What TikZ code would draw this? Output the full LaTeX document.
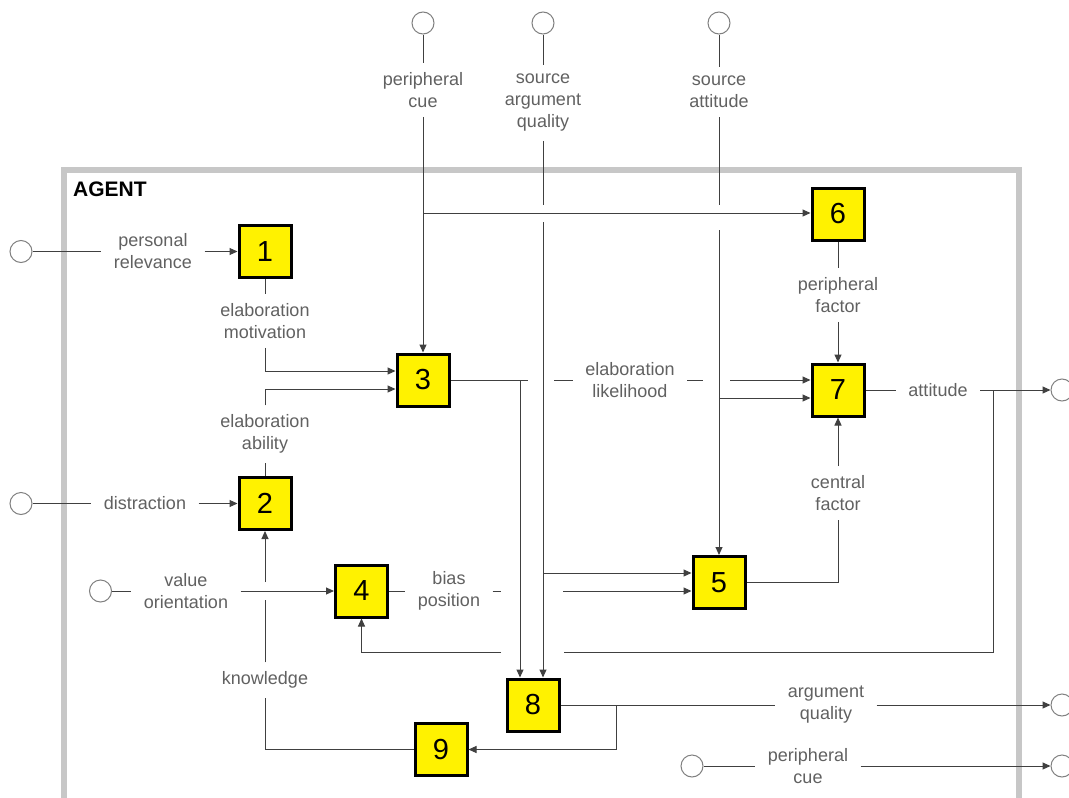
\documentclass[tikz,border=0pt]{standalone}
\usepackage{fontspec}
\setmainfont{Liberation Sans}
\usetikzlibrary{arrows.meta}
\tikzset{
  box/.style={draw=black, line width=3pt, fill=yellow, minimum width=52pt, minimum height=52pt, inner sep=0pt, font=\fontsize{29}{29}\selectfont},
  port/.style={circle, draw=black!50, line width=1pt, fill=white, minimum size=22pt, inner sep=0pt},
  lbl/.style={align=center, text=black!62, font=\fontsize{18}{22}\selectfont, inner xsep=12.5pt, inner ysep=9pt},
  wire/.style={draw=black!75, line width=1pt},
  arr/.style={wire, -{Triangle[length=8pt,width=7pt]}},
  frame/.style={draw=black!22, line width=6pt},
}
\begin{document}
\begin{tikzpicture}[x=1pt,y=-1pt]
\useasboundingbox (0,0) rectangle (1069,798);
\fill[white] (0,0) rectangle (1069,798);
\draw[frame] (63.5,169.5) rectangle (1019,802);
\node[font=\bfseries\fontsize{21}{21}\selectfont, anchor=west, inner sep=0pt] (agent) at (73,189) {AGENT};

% boxes
\node[box] (b1) at (265,251.5) {1};
\node[box] (b2) at (265,503.5) {2};
\node[box] (b3) at (423,380) {3};
\node[box] (b4) at (361.5,591) {4};
\node[box] (b5) at (719,582.5) {5};
\node[box] (b6) at (838,214) {6};
\node[box] (b7) at (838,390) {7};
\node[box] (b8) at (533,705) {8};
\node[box] (b9) at (441,749.5) {9};

% ports
\node[port] (ct1) at (423,23) {};
\node[port] (ct2) at (543,23) {};
\node[port] (ct3) at (719,23) {};
\node[port] (cl1) at (21,251.5) {};
\node[port] (cl2) at (21,503.5) {};
\node[port] (cl3) at (100.5,591) {};
\node[port] (cr1) at (1062,390) {};
\node[port] (cr2) at (1062,705) {};
\node[port] (cr3) at (1062,766) {};
\node[port] (cb) at (692,766) {};

% labels
\node[lbl] (lt1) at (423,90) {peripheral\\cue};
\node[lbl] (lt2) at (543,103) {source\\argument\\quality};
\node[lbl] (lt3) at (719,92) {source\\attitude};
\node[lbl] (ll1) at (153,251.5) {personal\\relevance};
\node[lbl] (ll2) at (145,503.5) {distraction};
\node[lbl] (ll3) at (186,591) {value\\orientation};
\node[lbl] (lm) at (265,321) {elaboration\\motivation};
\node[lbl] (la) at (265,434) {elaboration\\ability};
\node[lbl] (lel) at (630,380) {elaboration\\likelihood};
\node[lbl] (lbp) at (449,591) {bias\\position};
\node[lbl] (lcf) at (838,493) {central\\factor};
\node[lbl] (lpf) at (838,295) {peripheral\\factor};
\node[lbl] (latt) at (938,390) {attitude};
\node[lbl] (laq) at (826,705) {argument\\quality};
\node[lbl] (lk) at (265,680) {knowledge};
\node[lbl] (lpc) at (808,766) {peripheral\\cue};

% junctions and gap ends
\coordinate (j1) at (423,213);
\coordinate (g2a) at (543,205);
\coordinate (g2b) at (543,222);
\coordinate (j2) at (543,573);
\coordinate (g3a) at (719,205);
\coordinate (g3b) at (719,230);
\coordinate (j3) at (719,398);
\coordinate (e1) at (528,380);
\coordinate (j4) at (520,380);
\coordinate (e2) at (554,380);
\coordinate (e3) at (703,380);
\coordinate (e4) at (730,380);
\coordinate (p1) at (501,591);
\coordinate (p2) at (563,591);
\coordinate (j5) at (993,390);
\coordinate (h1) at (563.5,652);
\coordinate (h2) at (501,652);
\coordinate (j6) at (616,705);
\coordinate (k1) at (265,600);
\coordinate (k2) at (265,582);

% top inputs
\draw[wire] (ct1) -- (lt1);
\draw[arr] (lt1) -- (b3);
\draw[arr] (j1) -- (b6.west |- j1);
\draw[wire] (ct2) -- (lt2);
\draw[wire] (lt2) -- (g2a);
\draw[arr] (g2b) -- (b8.north -| g2b);
\draw[arr] (j2) -- (b5.west |- j2);
\draw[wire] (ct3) -- (lt3);
\draw[wire] (lt3) -- (g3a);
\draw[arr] (g3b) -- (b5);
\draw[arr] (j3) -- (b7.west |- j3);

% left inputs
\draw[wire] (cl1) -- (ll1);
\draw[arr] (ll1) -- (b1);
\draw[wire] (cl2) -- (ll2);
\draw[arr] (ll2) -- (b2);
\draw[wire] (cl3) -- (ll3);
\draw[arr] (ll3) -- (b4);

% elaboration
\draw[wire] (b1) -- (lm);
\draw[arr] (lm) |- ([yshift=9pt]b3.west);
\draw[wire] (b2) -- (la);
\draw[arr] (la) |- ([yshift=-9pt]b3.west);

% elaboration likelihood
\draw[wire] (b3.east) -- (e1);
\draw[arr] (j4) -- (b8.north -| j4);
\draw[wire] (e2) -- (lel);
\draw[wire] (lel) -- (e3);
\draw[arr] (e4) -- ([yshift=10pt]b7.west);

% bias position
\draw[wire] (b4) -- (lbp);
\draw[wire] (lbp) -- (p1);
\draw[arr] (p2) -- ([yshift=-8.5pt]b5.west);

% factors
\draw[wire] (b5) -| (lcf);
\draw[arr] (lcf) -- (b7);
\draw[wire] (b6) -- (lpf);
\draw[arr] (lpf) -- (b7);

% attitude
\draw[wire] (b7) -- (latt);
\draw[arr] (latt) -- (cr1);
\draw[wire] (j5) |- (h1);
\draw[arr] (h2) -| (b4);

% argument quality
\draw[wire] (b8) -- (laq);
\draw[arr] (laq) -- (cr2);
\draw[arr] (j6) |- (b9);

% knowledge
\draw[wire] (b9) -| (lk);
\draw[wire] (lk) -- (k1);
\draw[arr] (k2) -- (b2);

% bottom peripheral cue
\draw[wire] (cb) -- (lpc);
\draw[arr] (lpc) -- (cr3);
\end{tikzpicture}
\end{document}
